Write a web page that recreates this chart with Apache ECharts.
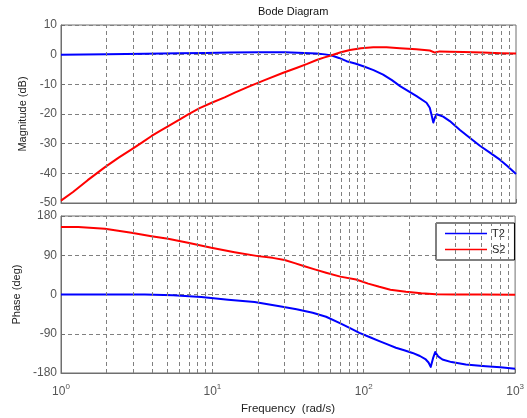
<!DOCTYPE html>
<html>
<head>
<meta charset="utf-8">
<script src="https://cdn.jsdelivr.net/npm/echarts@6/dist/echarts.min.js"></script>
<style>
  html, body { margin: 0; padding: 0; background: #fff; }
  #chart { width: 527px; height: 418px; }
</style>
</head>
<body>
<div id="chart"></div>
<script>
// Frequency samples (rad/s) and magnitude responses (dB)
const freqMagT = [1, 2, 3.6, 6, 9, 13, 20, 30, 40, 48.5, 55, 61, 68, 76.4, 87, 98.4, 115, 133, 152, 172, 195, 221, 257, 270, 278, 285, 292, 300, 331, 366, 427, 500, 578, 680, 783, 880, 1000];
const t2Mag    = [0, 0.1, 0.3, 0.5, 0.6, 0.7, 0.8, 0.8, 0.6, 0.4, 0.1, -0.3, -1.1, -2.2, -3.0, -3.9, -5.2, -6.7, -8.6, -10.6, -12.3, -14.0, -16.2, -17.9, -20.5, -22.9, -21.2, -20.1, -20.9, -22.4, -25.4, -28.2, -30.7, -33.2, -35.4, -37.6, -40.2];

const freqMagS = [1, 1.2, 1.5, 1.95, 2.4, 2.92, 3.45, 3.96, 4.5, 5.1, 6.0, 6.9, 8.2, 9.85, 12, 14.0, 17.6, 22, 29.2, 36, 42, 48.5, 54, 60.9, 70, 80.4, 95, 114.5, 140, 171.7, 220, 270, 292, 314, 366, 450, 600, 800, 1000];
const s2Mag    = [-49.2, -46.3, -42.3, -37.9, -34.7, -31.9, -29.5, -27.4, -25.7, -24.1, -22.0, -20.1, -18.0, -16.2, -14.4, -12.8, -10.6, -8.6, -6.1, -4.4, -3.1, -1.8, -1.0, -0.2, 0.8, 1.6, 2.2, 2.5, 2.5, 2.2, 1.8, 1.4, 0.7, 1.1, 1.0, 0.9, 0.7, 0.5, 0.4];

// Phase responses (deg)
const freqPhT = [1, 2, 3.58, 5.5, 8.45, 12.7, 19, 27.8, 36, 46, 56.4, 69, 80, 93.6, 110, 126.8, 145, 163, 185, 210, 235, 257, 268, 277, 287, 296.6, 310, 331, 380, 472, 560, 640, 800, 1000];
const t2Phase = [0, 0, 0, -2, -6, -12, -17.4, -26.8, -34, -42, -51, -65, -76, -88, -98, -107, -115, -122, -128, -134, -141, -149, -156, -166, -146, -132, -142, -149, -155, -160.6, -163, -164.5, -167, -170];

const freqPhS = [1, 1.3, 1.95, 2.92, 3.96, 5.1, 6.9, 9.85, 14.0, 20, 25, 30, 35, 39.6, 48, 56.4, 70, 89, 107, 126.8, 150, 190, 240, 300, 400, 600, 1000];
const s2Phase = [155, 155, 150.6, 141.5, 133.7, 127.7, 118.5, 107, 97, 88, 84, 79, 72, 66, 57, 50, 41, 34.4, 25, 17.6, 11, 6.2, 2.8, 0.7, 0, 0, -0.5];

// Axis ticks and log-decade grid lines
const magTicks = { min: -50, max: 10, step: 10 };
const phaseTicks = { min: -180, max: 180, step: 90 };
const freqRange = { min: 1, max: 1000 };
const freqGridLines = [2, 3, 4, 5, 6, 7, 8, 9, 10, 20, 30, 40, 50, 60, 70, 80, 90, 100, 200, 300, 400, 500, 600, 700, 800, 900];

const pairs = (xs, ys) => xs.map((x, i) => [x, ys[i]]);

const FONT = 'Liberation Sans, Arial, sans-serif';
const GREY = '#555';
const FRAME = '#6f6f6f';
const dashed = { type: [4, 3], color: '#808080', width: 1 };

function gridLineSeries(idx) {
  return {
    type: 'line', xAxisIndex: idx, yAxisIndex: idx, data: [], silent: true, z: 1,
    markLine: {
      silent: true, symbol: ['none', 'none'], animation: false,
      label: { show: false }, lineStyle: dashed,
      data: freqGridLines.map(v => ({ xAxis: v }))
    }
  };
}

function xAxisCfg(idx, showLabels) {
  return {
    type: 'log', logBase: 10, gridIndex: idx, min: freqRange.min, max: freqRange.max,
    axisLine: { onZero: false, lineStyle: { color: FRAME } },
    axisTick: { inside: true, length: 4, lineStyle: { color: FRAME } },
    splitLine: { show: false },
    axisLabel: {
      show: showLabels, margin: 10, color: GREY, fontFamily: FONT,
      formatter: v => '{b|10}{s|' + Math.round(Math.log10(v)) + '}',
      rich: {
        b: { fontSize: 12, color: GREY, fontFamily: FONT },
        s: { fontSize: 8, color: GREY, fontFamily: FONT, padding: [0, 0, 9, 0] }
      }
    },
    name: showLabels ? 'Frequency  (rad/s)' : '',
    nameLocation: 'middle', nameGap: 30,
    nameTextStyle: { fontSize: 11.5, color: '#222', fontFamily: FONT }
  };
}

function yAxisCfg(idx, t, name, gap) {
  return {
    type: 'value', gridIndex: idx, min: t.min, max: t.max, interval: t.step,
    axisLine: { show: true, onZero: false, lineStyle: { color: FRAME } },
    axisTick: { inside: true, length: 4, lineStyle: { color: FRAME } },
    splitLine: { show: true, lineStyle: dashed },
    axisLabel: { color: GREY, fontSize: 12, fontFamily: FONT, margin: 4 },
    name: name, nameLocation: 'middle', nameGap: gap,
    nameTextStyle: { fontSize: 11, color: '#222', fontFamily: FONT }
  };
}

const lineSeries = (name, color, idx, data) => ({
  name, type: 'line', xAxisIndex: idx, yAxisIndex: idx, data,
  showSymbol: false, symbol: 'none', z: 3, animation: false,
  lineStyle: { color, width: 2, join: 'round' }, itemStyle: { color }
});

const chart = echarts.init(document.getElementById('chart'), null, { renderer: 'canvas' });
chart.setOption({
  animation: false,
  backgroundColor: '#fff',
  title: {
    text: 'Bode Diagram', left: 253, top: 1,
    textStyle: { fontSize: 11, fontWeight: 'normal', color: '#111', fontFamily: FONT }
  },
  legend: {
    data: ['T2', 'S2'], orient: 'vertical', left: 436, top: 223,
    icon: 'rect', itemWidth: 42, itemHeight: 1.5, itemGap: 5,
    padding: [5, 9, 5, 9], backgroundColor: '#fff',
    borderColor: '#000', borderWidth: 1, borderRadius: 0,
    textStyle: { fontSize: 11, color: '#222', fontFamily: FONT }
  },
  grid: [
    { left: 61, top: 25, width: 455, height: 178, show: true, borderColor: FRAME, borderWidth: 1, backgroundColor: 'transparent' },
    { left: 61, top: 216, width: 455, height: 157, show: true, borderColor: FRAME, borderWidth: 1, backgroundColor: 'transparent' }
  ],
  xAxis: [xAxisCfg(0, false), xAxisCfg(1, true)],
  yAxis: [
    yAxisCfg(0, magTicks, 'Magnitude (dB)', 33),
    yAxisCfg(1, phaseTicks, 'Phase (deg)', 39)
  ],
  series: [
    gridLineSeries(0),
    gridLineSeries(1),
    lineSeries('T2', '#0000ff', 0, pairs(freqMagT, t2Mag)),
    lineSeries('S2', '#ff0000', 0, pairs(freqMagS, s2Mag)),
    lineSeries('T2', '#0000ff', 1, pairs(freqPhT, t2Phase)),
    lineSeries('S2', '#ff0000', 1, pairs(freqPhS, s2Phase))
  ]
});
</script>
</body>
</html>
